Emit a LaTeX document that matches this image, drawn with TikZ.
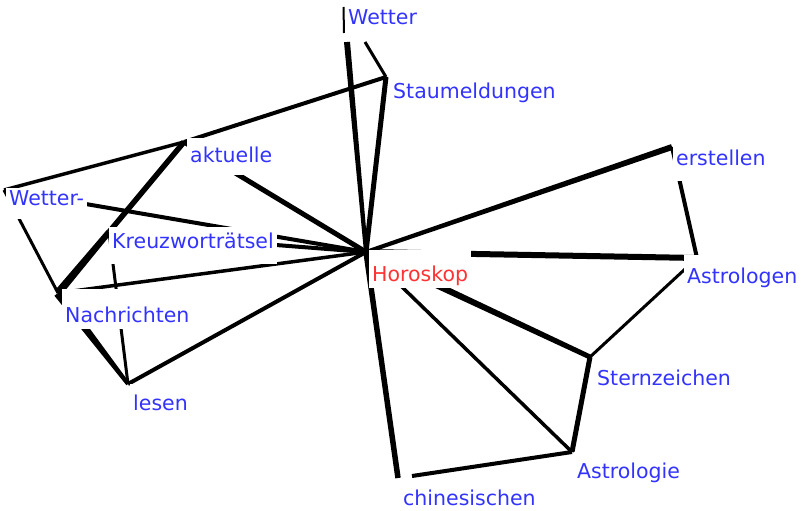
\documentclass[tikz,border=0pt]{standalone}
\usepackage{fontspec}
\setmainfont{DejaVu Sans}
\usetikzlibrary{calc}
\definecolor{wblue}{RGB}{51,51,255}
\definecolor{wred}{RGB}{255,51,51}
\newcommand\taperline[4]{\fill ($(#1)!#3!90:(#2)$) -- ($(#2)!#4!-90:(#1)$) -- ($(#2)!#4!90:(#1)$) -- ($(#1)!#3!-90:(#2)$) -- cycle;}
\begin{document}
\begin{tikzpicture}[x=1pt,y=-1pt,
  word/.style={anchor=base west, fill=white, text=wblue, inner xsep=3pt, inner ysep=0pt, font=\fontsize{20.5}{24}\selectfont},
  hub/.style={word, text=wred},
  link/.style={line width=#1pt},
]
\useasboundingbox (0,0) rectangle (806,511);
% anchor points
\coordinate (H) at (366,252);
\coordinate (Wt) at (343.5,7);
\coordinate (Wb) at (344,33);
\coordinate (Wh) at (347,42);
\coordinate (Ws) at (365,42);
\coordinate (S) at (386,77);
\coordinate (A) at (184,142);
\coordinate (WW) at (4,190);
\coordinate (K) at (109,232);
\coordinate (N) at (58,293);
\coordinate (L) at (128,384);
\coordinate (E) at (672,147);
\coordinate (Ag) at (697,258);
\coordinate (Sz) at (590,357);
\coordinate (As) at (572,452);
\coordinate (C) at (398,478);
\coordinate (C2) at (412,476);
% connectors
\draw[link=2] (Wt) -- (Wb);
\taperline{Wh}{H}{3pt}{2pt}
\draw[link=3] (Ws) -- (S);
\draw[link=5] (S) -- (H);
\draw[link=4] (S) -- (A);
\draw[link=5] (A) -- (H);
\draw[link=3.5] (A) -- (WW);
\draw[link=3] (WW) -- (N);
\draw[link=4] (WW) -- (H);
\draw[link=5.5] (A) -- (K);
\taperline{K}{N}{3pt}{4pt}
\draw[link=4] (K) -- (H);
\draw[link=3] (K) -- (L);
\draw[link=3.5] (N) -- (H);
\taperline{N}{L}{4.5pt}{2pt}
\draw[link=4] (L) -- (H);
\taperline{H}{E}{2pt}{3pt}
\draw[link=4] (E) -- (Ag);
\draw[link=6] (H) -- (Ag);
\draw[link=3] (Ag) -- (Sz);
\taperline{H}{Sz}{3.5pt}{2.5pt}
\draw[link=5] (Sz) -- (As);
\draw[link=3.5] (H) -- (As);
\draw[link=5.5] (H) -- (C);
\draw[link=4] (As) -- (C2);
% labels
\node[hub, text height=31pt, text depth=7pt] (tH) at (369,281) {Horoskop\hspace{6pt}};
\node[word, text height=25pt, text depth=15pt] (tW) at (345,25) {Wetter};
\node[word, text height=27pt, text depth=8pt] (tS) at (390,99) {Staumeldungen};
\node[word, text height=24pt, text depth=13pt] (tA) at (187,162) {aktuelle};
\node[word, text height=17pt, text depth=14pt] (tWW) at (6,205) {Wetter-};
\node[word, text height=21pt, text depth=16pt] (tK) at (109,248) {Kreuzworträtsel};
\node[word, text height=33pt, text depth=7pt] (tN) at (62,322) {Nachrichten};
\node[word, text height=26pt, text depth=7pt] (tL) at (130,410) {lesen};
\node[word, text height=26pt, text depth=16pt] (tE) at (673,165) {erstellen};
\node[word, text height=28pt, text depth=7pt] (tAg) at (684,283) {Astrologen};
\node[word, text height=27pt, text depth=7pt] (tSz) at (594,385) {Sternzeichen};
\node[word, text height=26pt, text depth=7pt] (tAs) at (574,478) {Astrologie};
\node[word, text height=27pt, text depth=6pt] (tC) at (400,505) {chinesischen};
\end{tikzpicture}
\end{document}
